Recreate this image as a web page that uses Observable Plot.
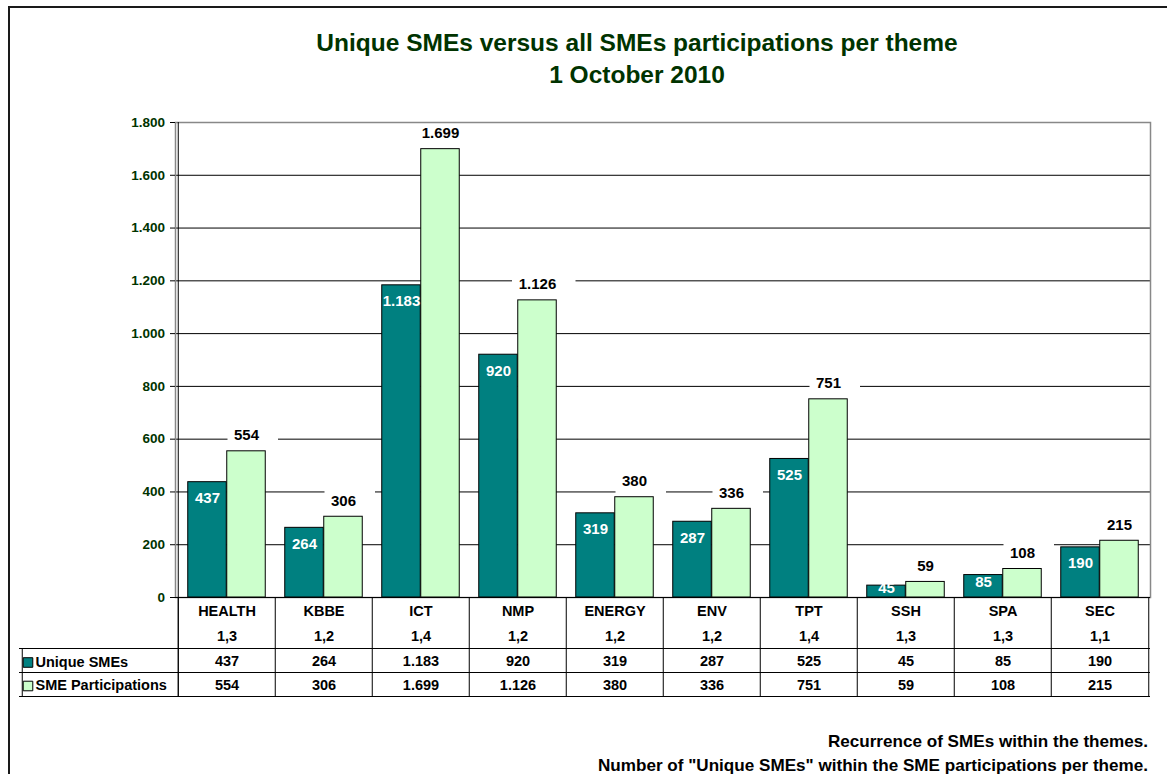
<!DOCTYPE html>
<html>
<head>
<meta charset="utf-8">
<script src="https://cdn.jsdelivr.net/npm/d3@7"></script>
<script src="https://cdn.jsdelivr.net/npm/@observablehq/plot@0.6"></script>
<style>
html, body { margin: 0; padding: 0; background: #fff; }
body { width: 1167px; height: 774px; overflow: hidden; position: relative; font-family: "Liberation Sans", Arial, Helvetica, sans-serif; color: #000; }
#border { position: absolute; left: 8px; top: 6px; width: 2000px; height: 2000px; border-left: 2px solid #1a1a1a; border-top: 2px solid #1a1a1a; box-sizing: border-box; }
#chart { position: absolute; left: 0; top: 0; }
#title { position: absolute; left: 137px; width: 1000px; top: 27.4px; text-align: center; font-size: 24.5px; line-height: 31.6px; font-weight: bold; color: #003300; white-space: nowrap; }
#footer { position: absolute; right: 19px; top: 730.3px; text-align: right; font-size: 17.1px; line-height: 23.7px; font-weight: bold; color: #000; white-space: nowrap; }
</style>
</head>
<body>
<div id="border"></div>
<div id="chart"></div>
<div id="title">Unique SMEs versus all SMEs participations per theme<br>1 October 2010</div>
<div id="footer">Recurrence of SMEs within the themes.<br>Number of "Unique SMEs" within the SME participations per theme.</div>
<script>
const themes = ["HEALTH", "KBBE", "ICT", "NMP", "ENERGY", "ENV", "TPT", "SSH", "SPA", "SEC"];
const uniqueSMEs = [437, 264, 1183, 920, 319, 287, 525, 45, 85, 190];
const smeParticipations = [554, 306, 1699, 1126, 380, 336, 751, 59, 108, 215];
const recurrence = ["1,3", "1,2", "1,4", "1,2", "1,2", "1,2", "1,4", "1,3", "1,3", "1,1"];
const yTicks = [0, 200, 400, 600, 800, 1000, 1200, 1400, 1600, 1800];
const seriesNames = ["Unique SMEs", "SME Participations"];
const seriesColors = ["#008080", "#CCFFCC"];

const rows = themes.map((theme, i) => ({theme, unique: uniqueSMEs[i], part: smeParticipations[i], ratio: recurrence[i]}));
const fmt = d3.formatLocale({decimal: ",", thousands: ".", grouping: [3], currency: ["", ""]}).format(",d");

const W = 1167, H = 774, mL = 175, mR = 17, mT = 122, mB = 177;
const band = (W - mL - mR) / themes.length;
const barW = band * 0.4;
const gap = band * 0.1;
const half = band / 2;
const font = {fontWeight: "bold"};

// teal label offsets (Excel pushes labels of very short bars up)
const tealDy = v => v >= 100 ? 16 : v >= 60 ? 7 : 3;
const tealGroups = d3.groups(rows, d => tealDy(d.unique));

// white label box (Excel data-label background) as a custom symbol; r = number of characters
const labelBox = {
  draw(ctx, size) {
    const n = Math.sqrt(size / Math.PI);
    const w = 6.5 * n + 31, h = 28;
    ctx.moveTo(-w / 2, -h / 2);
    ctx.lineTo(w / 2, -h / 2);
    ctx.lineTo(w / 2, h / 2);
    ctx.lineTo(-w / 2, h / 2);
    ctx.closePath();
  }
};
const boxGroups = d3.groups(rows, d => fmt(d.part).length);

const tableText = {frameAnchor: "bottom", lineAnchor: "middle", fontSize: 14.5, fill: "#000", ...font};
const legendText = {frameAnchor: "bottom-left", lineAnchor: "middle", textAnchor: "start", fontSize: 14.5, fill: "#000", ...font};

const marks = [
  // gridlines
  Plot.ruleY(yTicks.filter(t => t > 0 && t < 1800), {stroke: "#000", strokeWidth: 1}),
  // white boxes behind the participation labels
  ...boxGroups.map(([n, g]) => Plot.dot(g, {x: "theme", y: "part", r: n, symbol: labelBox,
    dx: barW / 2 + 6.25, dy: -16.5, fill: "white", stroke: "none"})),
  Plot.frame({stroke: "#888", strokeWidth: 1.5}),
  // bars
  Plot.barY(rows, {x: "theme", y: "unique", fill: seriesColors[0], stroke: "#000", strokeWidth: 1,
    insetLeft: gap, insetRight: gap + barW}),
  Plot.barY(rows, {x: "theme", y: "part", fill: seriesColors[1], stroke: "#000", strokeWidth: 1,
    insetLeft: gap + barW, insetRight: gap}),
  // axis lines
  Plot.ruleX([themes[0]], {x: d => d, dx: -half, y1: 1800, y2: 0, insetBottom: -99, stroke: "#000"}),
  Plot.ruleY([0], {stroke: "#000"}),
  // value labels
  ...tealGroups.map(([dy, g]) => Plot.text(g, {x: "theme", y: "unique", text: d => fmt(d.unique),
    dx: -barW / 2, dy, fill: "white", fontSize: 15, ...font})),
  Plot.text(rows, {x: "theme", y: "part", text: d => fmt(d.part), dx: barW / 2, dy: -16,
    fill: "#000", fontSize: 15, ...font}),
  // data table: vertical rules
  Plot.ruleX(themes, {x: d => d, dx: -half, y1: 0, y2: 0, insetBottom: -99, stroke: "#000"}),
  Plot.ruleX([themes[themes.length - 1]], {x: d => d, dx: half, y1: 0, y2: 0, insetBottom: -99, stroke: "#000"}),
  Plot.ruleX([themes[0]], {x: d => d, dx: -half - 156, y1: 0, y2: 0, insetTop: 51, insetBottom: -99, stroke: "#000"}),
  // data table: horizontal rules
  Plot.ruleY([0], {dy: 51, insetLeft: -156, stroke: "#000"}),
  Plot.ruleY([0], {dy: 75, insetLeft: -156, stroke: "#000"}),
  Plot.ruleY([0], {dy: 99, insetLeft: -156, stroke: "#000"}),
  // data table: texts
  Plot.text(rows, {x: "theme", text: "theme", dy: 13.5, ...tableText}),
  Plot.text(rows, {x: "theme", text: "ratio", dy: 38.5, ...tableText}),
  Plot.text(rows, {x: "theme", text: d => fmt(d.unique), dy: 64, ...tableText}),
  Plot.text(rows, {x: "theme", text: d => fmt(d.part), dy: 88, ...tableText}),
  // legend inside the table
  Plot.dot([seriesNames[0]], {frameAnchor: "bottom-left", dx: 27.5 - mL, dy: 65, symbol: "square", r: 5.4,
    fill: seriesColors[0], stroke: "#000", strokeWidth: 1}),
  Plot.dot([seriesNames[1]], {frameAnchor: "bottom-left", dx: 27.5 - mL, dy: 88.5, symbol: "square", r: 5.4,
    fill: seriesColors[1], stroke: "#000", strokeWidth: 1}),
  Plot.text([seriesNames[0]], {text: d => d, dx: 35 - mL, dy: 64.5, ...legendText}),
  Plot.text([seriesNames[1]], {text: d => d, dx: 35 - mL, dy: 88, ...legendText}),
  // y axis
  Plot.axisY({ticks: yTicks, tickFormat: fmt, tickSize: 5, tickPadding: 5.5, label: null,
    fill: "#003300", fontSize: 13.5, ...font})
];

const chart = Plot.plot({
  width: W, height: H,
  marginLeft: mL, marginRight: mR, marginTop: mT, marginBottom: mB,
  style: {fontFamily: "'Liberation Sans', Arial, sans-serif", background: "transparent", overflow: "visible", color: "#000"},
  x: {type: "band", domain: themes, padding: 0, axis: null},
  y: {domain: [0, 1800], range: [H - mB, mT]},
  r: {type: "identity"},
  marks
});
document.getElementById("chart").appendChild(chart);
</script>
</body>
</html>
